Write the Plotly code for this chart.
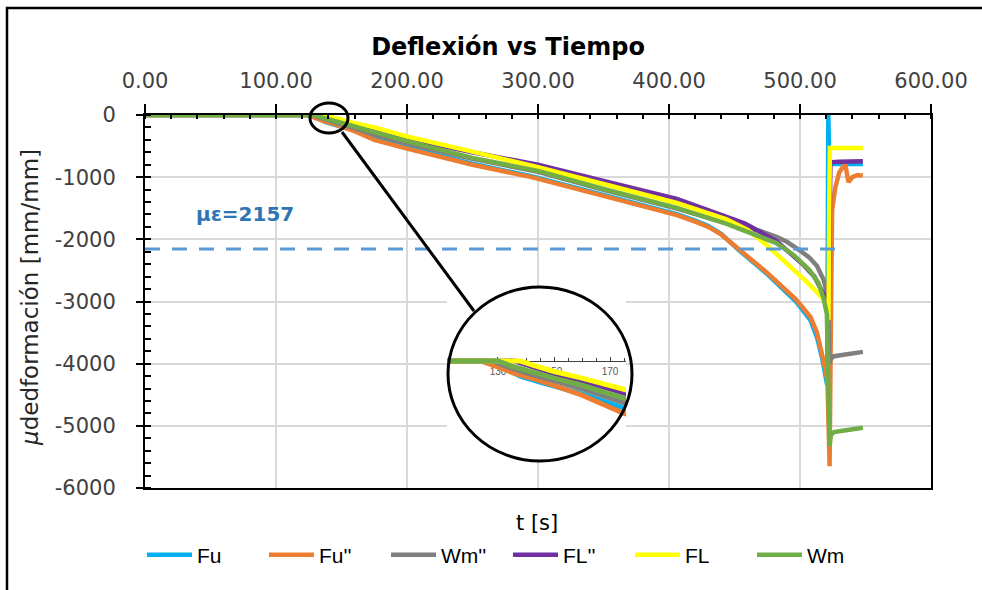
import plotly.graph_objects as go

# ---------------- data: strain vs time for each gauge ----------------
t_fu = [0, 127, 132, 138, 145, 160, 175, 200, 250, 295, 350, 406, 420, 430, 440, 452, 475, 497, 508, 513, 517, 519.5, 520.8, 521.6, 522.4, 530, 548]
e_fu = [0, 0, -55, -115, -160, -250, -360, -520, -785, -985, -1285, -1595, -1700, -1785, -1915, -2150, -2560, -3000, -3300, -3580, -3920, -4200, -4350, 0, -790, -790, -790]

t_fu2 = [0, 124, 130, 136, 145, 160, 175, 200, 250, 295, 350, 406, 420, 430, 440, 452, 475, 497, 508, 513, 517, 519.5, 521, 522, 522.6, 523.3, 523.8, 524.5, 527, 530, 534.5, 537, 540, 544, 548]
e_fu2 = [0, 0, -45, -95, -150, -260, -400, -540, -800, -1000, -1300, -1610, -1715, -1800, -1925, -2140, -2540, -2970, -3250, -3500, -3830, -4100, -4300, -5000, -5650, -4000, -2500, -1530, -1160, -920, -790, -1080, -1000, -965, -975]

t_wm2 = [0, 128, 133, 140, 150, 160, 175, 200, 250, 300, 350, 406, 437, 452, 470, 482, 490, 500, 507, 513, 518, 520.5, 521.8, 522.5, 523.5, 526, 535, 548]
e_wm2 = [0, 0, -40, -90, -150, -210, -320, -460, -705, -915, -1205, -1505, -1700, -1770, -1870, -1960, -2040, -2180, -2290, -2430, -2650, -2850, -3300, -4000, -3920, -3880, -3850, -3810]

t_fl2 = [0, 136, 142, 150, 160, 176, 200, 250, 300, 350, 406, 444, 458, 467, 482, 494, 503, 511, 518, 520.5, 521.8, 522.5, 523.2, 530, 548]
e_fl2 = [0, 0, -40, -95, -150, -235, -380, -600, -800, -1060, -1350, -1640, -1745, -1850, -2030, -2250, -2420, -2600, -2860, -2980, -3300, -2000, -760, -750, -745]

t_fl = [0, 138, 143, 150, 160, 176, 200, 250, 300, 350, 406, 444, 460, 475, 492, 505, 513, 518, 520.5, 521.8, 522.3, 522.8, 535, 548]
e_fl = [0, 0, -35, -80, -130, -205, -345, -590, -840, -1110, -1415, -1680, -1850, -2100, -2420, -2680, -2850, -2970, -3080, -3300, -1500, -530, -530, -530]

t_wm = [0, 130, 135, 142, 150, 160, 175, 200, 250, 300, 350, 406, 444, 470, 482, 495, 507, 514, 518, 520.5, 521.8, 522.6, 523.5, 526, 535, 548]
e_wm = [0, 0, -40, -85, -130, -185, -275, -420, -690, -900, -1190, -1495, -1750, -1960, -2060, -2250, -2490, -2700, -2950, -3200, -4200, -5330, -5150, -5100, -5070, -5030]

series_names = ["Fu", "Fu''", "Wm''", "FL''", "FL", "Wm"]
series_t = [t_fu, t_fu2, t_wm2, t_fl2, t_fl, t_wm]
series_e = [e_fu, e_fu2, e_wm2, e_fl2, e_fl, e_wm]
series_colors = ["#00B0F0", "#ED7D31", "#7F7F7F", "#7030A0", "#FFFF00", "#70AD47"]

# threshold strain
limit_value = 2157
limit_t = [0, 530]
limit_e = [-limit_value, -limit_value]

# axis ticks
x_ticks = [0, 100, 200, 300, 400, 500, 600]
x_ticktext = ["0.00", "100.00", "200.00", "300.00", "400.00", "500.00", "600.00"]
y_ticks = [0, -1000, -2000, -3000, -4000, -5000, -6000]
y_ticktext = ["0", "-1000", "-2000", "-3000", "-4000", "-5000", "-6000"]

# ---------------- geometry helpers (pixels -> paper) ----------------
W, H = 982, 590
L, R, T, B = 145, 931, 115, 488


def px(x):
    return (x - L) / (R - L)


def py(y):
    return (B - y) / (B - T)


# zoom inset placement (pixels) and its data window
IN_L, IN_R, IN_T, IN_B = 447, 626, 287, 461
in_xrange = [111.8, 175.7]
in_yrange = [-763, 565]


def ix(x):
    return in_xrange[0] + (x - IN_L) * (in_xrange[1] - in_xrange[0]) / (IN_R - IN_L)


def iy(y):
    return in_yrange[0] + (IN_B - y) * (in_yrange[1] - in_yrange[0]) / (IN_B - IN_T)


TICK_FONT = dict(family="DejaVu Sans", size=21, color="#404040")

fig = go.Figure()

# main curves
for name, tt, ee, col in zip(series_names, series_t, series_e, series_colors):
    fig.add_trace(go.Scatter(x=tt, y=ee, mode="lines", name=name,
                             line=dict(color=col, width=4.5),
                             hoverinfo="skip"))

# threshold line
fig.add_trace(go.Scatter(x=limit_t, y=limit_e, mode="lines", showlegend=False,
                         line=dict(color="#5B9BD5", width=3, dash="15px,12px"),
                         hoverinfo="skip"))

# zoomed view of the onset of loading
for name, tt, ee, col in zip(series_names, series_t, series_e, series_colors):
    fig.add_trace(go.Scatter(x=tt, y=ee, mode="lines", showlegend=False,
                             line=dict(color=col, width=5),
                             xaxis="x2", yaxis="y2", hoverinfo="skip"))

fig.update_layout(
    width=W, height=H, autosize=False,
    margin=dict(l=L, r=W - R, t=T, b=H - B, autoexpand=False),
    paper_bgcolor="white", plot_bgcolor="white",
    title=dict(text="<b>Deflexión vs Tiempo</b>", x=508 / W, y=1 - 47 / H,
               xanchor="center", yanchor="middle",
               font=dict(family="DejaVu Sans", size=24, color="black")),
    xaxis=dict(range=[0, 600], side="top", tickmode="array", tickvals=x_ticks,
               ticktext=x_ticktext, tickfont=TICK_FONT,
               ticks="outside", ticklen=9, tickwidth=2, tickcolor="black",
               ticklabelstandoff=8,
               showline=True, linecolor="black", linewidth=2, mirror=True,
               showgrid=True, gridcolor="#D9D9D9", gridwidth=2, zeroline=False,
               minor=dict(dtick=20, tick0=0, ticks="inside", ticklen=4, tickwidth=2,
                          tickcolor="black", showgrid=False)),
    yaxis=dict(range=[-6000, 0], tickmode="array", tickvals=y_ticks,
               ticktext=y_ticktext, tickfont=TICK_FONT,
               ticks="outside", ticklen=7, tickwidth=2, tickcolor="black",
               ticklabelstandoff=16,
               showline=True, linecolor="black", linewidth=2, mirror=True,
               showgrid=True, gridcolor="#D9D9D9", gridwidth=2, zeroline=False,
               minor=dict(dtick=200, tick0=0, ticks="inside", ticklen=6, tickwidth=2,
                          tickcolor="black", showgrid=False)),
    # inner half of the crossing major ticks
    xaxis3=dict(range=[0, 600], overlaying="x", anchor="y", side="top",
                tickmode="array", tickvals=x_ticks, ticks="inside",
                ticklen=8, tickwidth=2, tickcolor="black",
                showticklabels=False, showgrid=False, showline=False, zeroline=False),
    yaxis3=dict(range=[-6000, 0], overlaying="y", anchor="x", side="left",
                tickmode="array", tickvals=y_ticks, ticks="inside",
                ticklen=7, tickwidth=2, tickcolor="black",
                showticklabels=False, showgrid=False, showline=False, zeroline=False),
    # inset axes
    xaxis2=dict(domain=[px(IN_L), px(IN_R)], range=in_xrange, anchor="free",
                position=py(361), side="bottom", layer="below traces",
                tickmode="linear", tick0=130, dtick=20, tickformat="d",
                ticks="inside", ticklen=4, tickwidth=1, tickcolor="#404040",
                tickfont=dict(family="Liberation Sans", size=10, color="#595959"),
                ticklabelstandoff=1,
                showline=True, linecolor="#404040", linewidth=1,
                showgrid=False, zeroline=False,
                minor=dict(dtick=5, ticks="inside", ticklen=3, tickwidth=1,
                           tickcolor="#404040", showgrid=False)),
    yaxis2=dict(domain=[py(IN_B), py(IN_T)], range=in_yrange, anchor="x2",
                visible=False, showgrid=False, zeroline=False),
    legend=dict(orientation="h", x=px(508), xanchor="center", y=py(555),
                yanchor="middle", font=dict(family="Liberation Sans", size=21, color="black"),
                itemwidth=45, entrywidth=62, bgcolor="rgba(0,0,0,0)"),
    showlegend=True,
)

shapes = [
    # white disc behind the zoomed view
    dict(type="circle", xref="x2", yref="y2", layer="below",
         x0=ix(448), x1=ix(632), y0=iy(461), y1=iy(287),
         fillcolor="white", line=dict(width=0)),
    # zoom outline
    dict(type="circle", xref="paper", yref="paper", layer="above",
         x0=px(448), x1=px(632), y0=py(461), y1=py(287),
         fillcolor="rgba(0,0,0,0)", line=dict(color="black", width=3)),
    # marker of the zoomed region
    dict(type="circle", xref="paper", yref="paper", layer="above",
         x0=px(310), x1=px(348), y0=py(133), y1=py(103),
         fillcolor="rgba(0,0,0,0)", line=dict(color="black", width=3)),
    # connector
    dict(type="line", xref="paper", yref="paper", layer="above",
         x0=px(342), y0=py(132), x1=px(474), y1=py(311),
         line=dict(color="black", width=3)),
    # outer frame
    dict(type="rect", xref="paper", yref="paper", layer="above",
         x0=px(7), x1=px(1000), y0=py(620), y1=py(8),
         fillcolor="rgba(0,0,0,0)", line=dict(color="black", width=2.5)),
]
fig.update_layout(shapes=shapes)

fig.add_annotation(x=px(245), y=py(214), xref="paper", yref="paper",
                   xanchor="center", yanchor="middle",
                   text="<b>με=%d</b>" % limit_value, showarrow=False,
                   font=dict(family="DejaVu Sans", size=20, color="#2E75B6"))
fig.add_annotation(x=px(537), y=py(523), xref="paper", yref="paper",
                   xanchor="center", yanchor="middle",
                   text="t [s]", showarrow=False,
                   font=dict(family="DejaVu Sans", size=21, color="black"))
fig.add_annotation(x=px(30), y=py(298), xref="paper", yref="paper",
                   xanchor="center", yanchor="middle",
                   text="<i>μ</i>dedformación [mm/mm]", showarrow=False, textangle=-90,
                   font=dict(family="DejaVu Sans", size=23, color="#262626"))

fig.write_html("out.html")
